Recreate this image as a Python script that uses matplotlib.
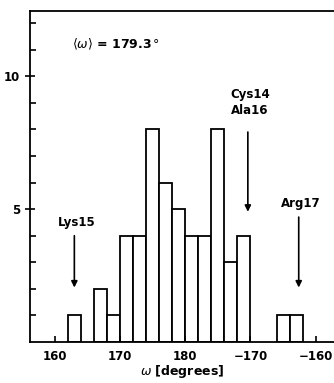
import numpy as np
import matplotlib.pyplot as plt

# omega histogram, 2 degree bins; values past 180 are shown as negative angles
bin_left = [162, 166, 168, 170, 172, 174, 176, 178, 180, 182, 184, 186, 188, 194, 196]
counts = [1, 2, 1, 4, 4, 8, 6, 5, 4, 4, 8, 3, 4, 1, 1]
tick_pos = [160, 170, 180, 190, 200]
tick_lab = ['160', '170', '180', '\u2212170', '\u2212160']
mean_omega = 179.3

# arrows: label, x position, text y, arrow top, arrow bottom
marks = [('Lys15', 163.0, 4.25, 4.0, 2.05),
         ('Cys14\nAla16', 189.6, 8.45, 7.9, 4.9),
         ('Arg17', 197.4, 4.95, 4.7, 2.05)]

fig = plt.figure(figsize=(3.34, 3.83), dpi=100)
ax = fig.add_axes([0.0898, 0.107, 0.912, 0.864])

ax.bar(bin_left, counts, width=2, align='edge', facecolor='white',
       edgecolor='black', linewidth=1.3)

for lab, x, ty, y0, y1 in marks:
    ax.text(x + 0.3, ty, lab, ha='center', va='bottom', fontsize=8.5,
            fontweight='bold', linespacing=1.3)
    ax.annotate('', xy=(x, y1), xytext=(x, y0),
                arrowprops=dict(arrowstyle='-|>', color='black', lw=1.2,
                                mutation_scale=9, shrinkA=0, shrinkB=0))

ax.text(162.6, 11.2, r'$\langle\omega\rangle$ = ' + f'{mean_omega}' + r'$\,\degree$',
        fontsize=9, fontweight='bold', va='center')

ax.set_xlim(156.2, 202.9)
ax.set_ylim(0, 12.45)
ax.set_xticks(tick_pos)
ax.set_xticklabels(tick_lab, fontsize=8.5, fontweight='bold')
ax.set_yticks([5, 10])
ax.set_yticklabels(['5', '10'], fontsize=8.5, fontweight='bold')
ax.set_yticks(np.arange(1, 13), minor=True)
ax.tick_params(axis='y', which='major', direction='inout', length=7, width=1.2)
ax.tick_params(axis='y', which='minor', direction='in', length=4, width=1.2)
ax.tick_params(axis='x', direction='in', length=4, width=1.2, pad=6)
ax.spines['right'].set_visible(False)
for s in ['left', 'bottom', 'top']:
    ax.spines[s].set_linewidth(1.3)

ax.set_xlabel(r'$\omega$ [degrees]', fontsize=9, fontweight='bold', labelpad=0)

fig.savefig('out.png', dpi=100)
